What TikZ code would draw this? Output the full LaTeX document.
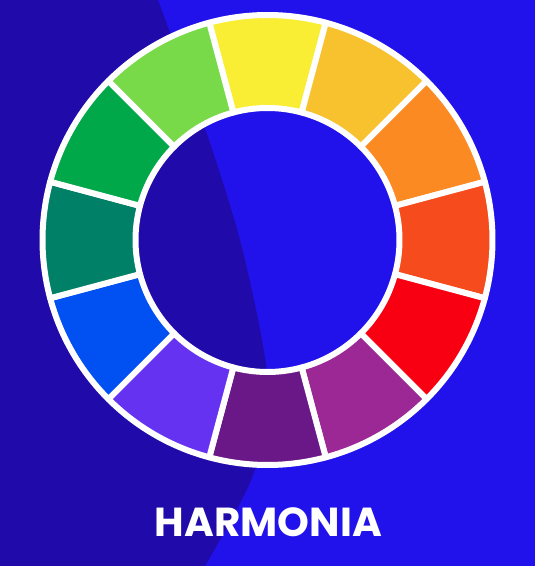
\documentclass[tikz,border=0pt]{standalone}
\usepackage{fontspec}
\newfontfamily\titlefont{Poppins}
\definecolor{bgdark}{RGB}{33,10,170}
\definecolor{bgbright}{RGB}{33,18,236}
\definecolor{cY}{RGB}{250,238,52}
\definecolor{cYO}{RGB}{248,194,46}
\definecolor{cO}{RGB}{252,138,34}
\definecolor{cRO}{RGB}{246,75,28}
\definecolor{cR}{RGB}{248,0,18}
\definecolor{cRV}{RGB}{156,40,150}
\definecolor{cV}{RGB}{106,24,136}
\definecolor{cBV}{RGB}{102,50,242}
\definecolor{cB}{RGB}{0,80,242}
\definecolor{cBG}{RGB}{0,128,102}
\definecolor{cG}{RGB}{0,168,74}
\definecolor{cYG}{RGB}{120,218,72}
\tikzset{
  sector/.style={draw=white, line width=6pt, line join=round},
  title/.style={text=white, inner sep=0pt, anchor=base,
    font=\titlefont\bfseries\fontsize{40.5}{40.5}\selectfont}
}
\begin{document}
\begin{tikzpicture}[x=1pt,y=1pt]
\useasboundingbox (0,0) rectangle (535,566);
\fill[bgbright] (0,0) rectangle (535,566);
\fill[bgdark] (0,566) -- plot[smooth] coordinates {(158,566) (208,429) (240,326) (262,226) (268,166) (252,88) (205,0)} -- (0,0) -- cycle;
\begin{scope}[shift={(267.5,326)}]
\foreach \c [count=\i from 0] in {cY,cYO,cO,cRO,cR,cRV,cV,cBV,cB,cBG,cG,cYG} {
  \pgfmathsetmacro\a{105-30*\i}
  \pgfmathsetmacro\b{\a-30}
  \filldraw[sector, fill=\c] (\a:225) arc[start angle=\a, end angle=\b, radius=225]
     -- (\b:132) arc[start angle=\b, end angle=\a, radius=132] -- cycle;
}
\end{scope}
\node[title] (title) at (268.5,29) {HARMONIA};
\end{tikzpicture}
\end{document}
